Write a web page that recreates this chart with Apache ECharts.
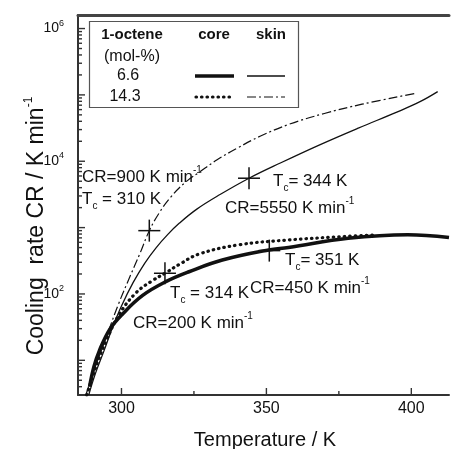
<!DOCTYPE html>
<html>
<head>
<meta charset="utf-8">
<script src="https://cdn.jsdelivr.net/npm/echarts@6/dist/echarts.min.js"></script>
<style>
  html, body { margin: 0; padding: 0; background: #fff; }
  #chart { width: 452px; height: 449px; }
</style>
</head>
<body>
<div id="chart"></div>
<script>
  // skin, 6.6 mol-% (thin solid)
  var skinLowT  = [288.7, 291, 294, 297, 300, 304, 308, 312, 316, 320, 326, 334, 344, 355, 368, 381.7, 395, 403, 409.1];
  var skinLowCR = [3, 6.3, 14, 32, 66, 148, 290, 500, 790, 1170, 1900, 3150, 5550, 9500, 17400, 31600, 55000, 79000, 112000];
  // skin, 14.3 mol-% (dash-dot)
  var skinHighT  = [287.7, 291, 295, 299, 303, 306.5, 309.6, 313, 317, 322, 327, 333, 340, 348, 358, 370, 383, 401.2];
  var skinHighCR = [3, 8, 24, 71, 186, 420, 900, 1660, 2880, 4800, 6900, 10500, 15800, 24000, 36300, 52500, 72400, 105000];
  // core, 6.6 mol-% (thick solid)
  var coreLowT  = [289, 290.5, 292.4, 295.9, 300.4, 307.3, 315.3, 323.3, 334.8, 350.8, 357.6, 378.2, 398.8, 413];
  var coreLowCR = [4, 8, 14, 29, 50, 95, 153, 216, 324, 460, 500, 690, 780, 710];
  // core, 14.3 mol-% (dotted)
  var coreHighT  = [288, 290, 292, 294.8, 299.3, 305.1, 310.6, 315.4, 320, 326.8, 340.5, 357.6, 378.2, 388];
  var coreHighCR = [3, 5.6, 10, 20, 50, 105, 158, 210, 280, 400, 550, 650, 740, 775];

  // crystallization points (crosses)
  var crossT  = [309.6, 344, 315, 351];
  var crossCR = [900, 5550, 205, 450];

  var xMajorTicks = [300, 350, 400];
  var xMinorTicks = [325, 375];
  var yMajorTicks = [10, 100, 1000, 10000, 100000, 1000000];
  var yMinorTicks = [4, 5, 6, 7, 8, 9,
    20, 30, 40, 50, 60, 70, 80, 90,
    200, 300, 400, 500, 600, 700, 800, 900,
    2000, 3000, 4000, 5000, 6000, 7000, 8000, 9000,
    20000, 30000, 40000, 50000, 60000, 70000, 80000, 90000,
    200000, 300000, 400000, 500000, 600000, 700000, 800000, 900000];

  var X_MIN = 285, X_MAX = 413, Y_MIN = 3, Y_MAX = 1.6e6;
  var ink = '#111';
  var axisInk = '#333';
  var font = 'Liberation Sans, Arial, sans-serif';

  function zip(a, b) {
    var out = [];
    for (var i = 0; i < a.length; i++) out.push([a[i], b[i]]);
    return out;
  }

  function tickSeries(data, dir) {
    return {
      type: 'custom', silent: true, clip: false, z: 5,
      data: data,
      renderItem: function (params, api) {
        var p = api.coord([api.value(0), api.value(1)]);
        var len = api.value(2);
        var shape = dir === 'x'
          ? {x1: p[0], y1: p[1], x2: p[0], y2: p[1] - len}
          : {x1: p[0], y1: p[1], x2: p[0] + len, y2: p[1]};
        return {type: 'line', shape: shape, style: {stroke: axisInk, lineWidth: 1.4}};
      }
    };
  }

  var xTickData = [], yTickData = [];
  xMajorTicks.forEach(function (v) { xTickData.push([v, Y_MIN, 7]); });
  xMinorTicks.forEach(function (v) { xTickData.push([v, Y_MIN, 4]); });
  yMajorTicks.forEach(function (v) { yTickData.push([X_MIN, v, 7]); });
  yMinorTicks.forEach(function (v) { yTickData.push([X_MIN, v, 4]); });

  var txt = {fontFamily: font, fontSize: 17, lineHeight: 24, fill: ink};
  var sub = {fontFamily: font, fontSize: 10, lineHeight: 10, verticalAlign: 'bottom', fill: ink};
  var sup = {fontFamily: font, fontSize: 10, lineHeight: 10, verticalAlign: 'top', fill: ink};

  function note(x, y, text) {
    return {
      type: 'text', left: x, top: y, z: 20,
      style: {text: text, rich: {t: txt, sub: sub, sup: sup}, fill: ink}
    };
  }

  var chart = echarts.init(document.getElementById('chart'));
  var option = {
    backgroundColor: '#fff',
    animation: false,
    grid: {left: 78, top: 15, right: 0, bottom: 54},
    xAxis: [{
      type: 'value', min: X_MIN, max: X_MAX, splitNumber: 3,
      axisLine: {lineStyle: {color: axisInk, width: 2}},
      axisTick: {show: false},
      splitLine: {show: false},
      axisLabel: {
        fontFamily: font, fontSize: 16, color: ink, margin: 6,
        formatter: function (v) { return v % 50 === 0 ? String(v) : ''; }
      }
    }, {
      type: 'value', min: X_MIN, max: X_MAX, position: 'top',
      axisLine: {show: true, lineStyle: {color: '#444', width: 3}},
      axisTick: {show: false}, axisLabel: {show: false}, splitLine: {show: false}
    }],
    yAxis: {
      type: 'log', logBase: 10, min: Y_MIN, max: Y_MAX,
      axisLine: {show: true, lineStyle: {color: axisInk, width: 2}},
      axisTick: {show: false},
      splitLine: {show: false},
      axisLabel: {
        fontFamily: font, color: ink, margin: 14,
        formatter: function (v) {
          var e = Math.log10(v);
          if (Math.abs(e - Math.round(e)) > 1e-6) return '';
          e = Math.round(e);
          return (e > 0 && e % 2 === 0) ? '{b|10}{s|' + e + '}' : '';
        },
        rich: {
          b: {fontFamily: font, fontSize: 14, lineHeight: 20, color: ink},
          s: {fontFamily: font, fontSize: 9, lineHeight: 9, verticalAlign: 'top', color: ink}
        }
      }
    },
    series: [
      {
        name: 'core 6.6', type: 'line', smooth: 0.4, showSymbol: false,
        data: zip(coreLowT, coreLowCR),
        lineStyle: {color: ink, width: 3.6}
      },
      {
        name: 'core 14.3', type: 'line', smooth: 0.4, showSymbol: false,
        data: zip(coreHighT, coreHighCR),
        lineStyle: {color: ink, width: 3.2, type: [0.5, 5], cap: 'round'}
      },
      {
        name: 'skin 6.6', type: 'line', smooth: 0.4, showSymbol: false,
        data: zip(skinLowT, skinLowCR),
        lineStyle: {color: ink, width: 1.3}
      },
      {
        name: 'skin 14.3', type: 'line', smooth: 0.4, showSymbol: false,
        data: zip(skinHighT, skinHighCR),
        lineStyle: {color: ink, width: 1.2, type: [9, 3, 2, 3]}
      },
      {
        name: 'Tc', type: 'custom', silent: true, z: 6,
        data: zip(crossT, crossCR),
        renderItem: function (params, api) {
          var p = api.coord([api.value(0), api.value(1)]);
          var s = {stroke: ink, lineWidth: 1.5};
          return {type: 'group', children: [
            {type: 'line', shape: {x1: p[0] - 11, y1: p[1], x2: p[0] + 11, y2: p[1]}, style: s},
            {type: 'line', shape: {x1: p[0], y1: p[1] - 11, x2: p[0], y2: p[1] + 11}, style: s}
          ]};
        }
      },
      tickSeries(xTickData, 'x'),
      tickSeries(yTickData, 'y')
    ],
    graphic: [
      // axis titles
      {
        type: 'text', x: 37, y: 226, rotation: Math.PI / 2, z: 20,
        style: {
          text: '{t|Cooling  rate CR / K min}{s|-1}', align: 'center', verticalAlign: 'middle',
          rich: {
            t: {fontFamily: font, fontSize: 23, lineHeight: 28, fill: ink},
            s: {fontFamily: font, fontSize: 12, lineHeight: 12, verticalAlign: 'top', fill: ink}
          }
        }
      },
      {
        type: 'text', x: 265, y: 440, z: 20,
        style: {text: 'Temperature / K', align: 'center', verticalAlign: 'middle',
          fontFamily: font, fontSize: 20, fill: ink}
      },
      // legend box
      {
        type: 'rect', shape: {x: 89.5, y: 21.5, width: 209, height: 86}, z: 15,
        style: {fill: '#fff', stroke: '#555', lineWidth: 1.2}
      },
      {type: 'text', x: 132, y: 35, z: 20, style: {text: '1-octene', align: 'center', verticalAlign: 'middle', fontFamily: font, fontSize: 15, fontWeight: 'bold', fill: ink}},
      {type: 'text', x: 214, y: 35, z: 20, style: {text: 'core', align: 'center', verticalAlign: 'middle', fontFamily: font, fontSize: 15, fontWeight: 'bold', fill: ink}},
      {type: 'text', x: 271, y: 35, z: 20, style: {text: 'skin', align: 'center', verticalAlign: 'middle', fontFamily: font, fontSize: 15, fontWeight: 'bold', fill: ink}},
      {type: 'text', x: 132, y: 57, z: 20, style: {text: '(mol-%)', align: 'center', verticalAlign: 'middle', fontFamily: font, fontSize: 16, fill: ink}},
      {type: 'text', x: 128, y: 76, z: 20, style: {text: '6.6', align: 'center', verticalAlign: 'middle', fontFamily: font, fontSize: 16, fill: ink}},
      {type: 'text', x: 125, y: 97, z: 20, style: {text: '14.3', align: 'center', verticalAlign: 'middle', fontFamily: font, fontSize: 16, fill: ink}},
      {type: 'line', z: 20, shape: {x1: 195, y1: 76, x2: 234, y2: 76}, style: {stroke: ink, lineWidth: 3.6}},
      {type: 'line', z: 20, shape: {x1: 196, y1: 97, x2: 234, y2: 97}, style: {stroke: ink, lineWidth: 3.2, lineDash: [0.5, 5], lineCap: 'round'}},
      {type: 'line', z: 20, shape: {x1: 247, y1: 76, x2: 285, y2: 76}, style: {stroke: ink, lineWidth: 1.3}},
      {type: 'line', z: 20, shape: {x1: 247, y1: 97, x2: 285, y2: 97}, style: {stroke: ink, lineWidth: 1.2, lineDash: [9, 3, 2, 3]}},
      // annotations
      note(82, 165, '{t|CR=900 K min}{sup|-1}'),
      note(82, 191, '{t|T}{sub|c}{t| = 310 K}'),
      note(273, 173, '{t|T}{sub|c}{t|= 344 K}'),
      note(225, 196, '{t|CR=5550 K min}{sup|-1}'),
      note(170, 285, '{t|T}{sub|c}{t| = 314 K}'),
      note(133, 311, '{t|CR=200 K min}{sup|-1}'),
      note(285, 252, '{t|T}{sub|c}{t|= 351 K}'),
      note(250, 276, '{t|CR=450 K min}{sup|-1}')
    ]
  };
  chart.setOption(option);
</script>
</body>
</html>
